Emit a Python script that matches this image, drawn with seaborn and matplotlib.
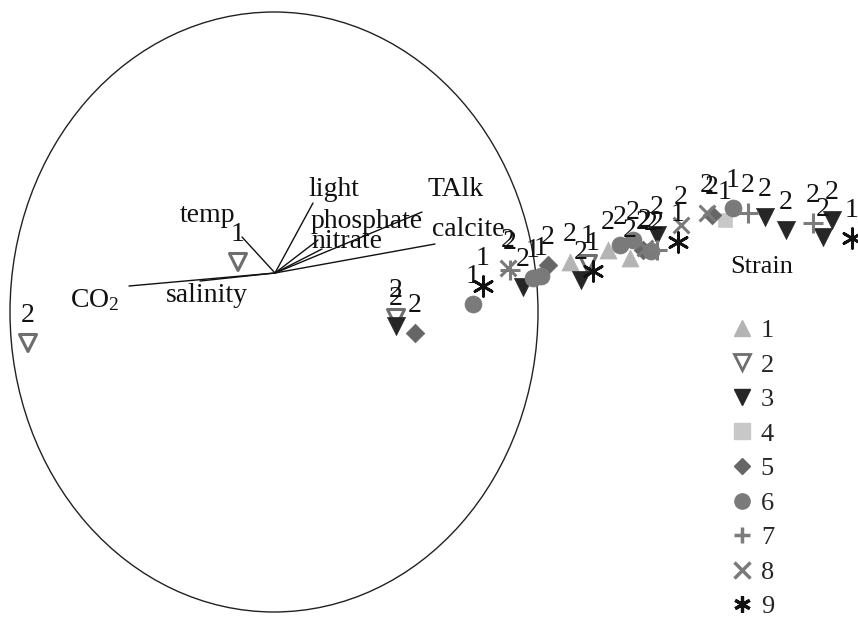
import numpy as np
import pandas as pd
import matplotlib
matplotlib.use("Agg")
import matplotlib.pyplot as plt
from matplotlib.patches import Ellipse
from matplotlib.lines import Line2D
import seaborn as sns

# ---- site scores (axis 1, axis 2), strain and replicate label ----
axis1 = [2.95, 3.33, 3.55,
         -2.47, -0.37, 1.21, 3.13,
         1.21, 2.48, 3.06, 3.82, 4.90, 5.11, 5.48, 5.57,
         4.50,
         1.40, 2.73, 3.68, 4.37,
         1.98, 2.58, 2.66, 3.45, 3.58, 3.76, 4.58,
         2.35, 3.82, 4.73, 5.38,
         2.33, 3.70, 4.06, 4.32,
         2.08, 3.18, 4.03, 5.77]
axis2 = [0.11, 0.23, 0.15,
         -0.70, 0.11, -0.45, 0.09,
         -0.53, -0.14, -0.07, 0.38, 0.56, 0.43, 0.36, 0.53,
         0.53,
         -0.60, 0.08, 0.23, 0.58,
         -0.31, -0.05, -0.03, 0.28, 0.33, 0.22, 0.65,
         0.03, 0.23, 0.60, 0.50,
         0.05, 0.25, 0.48, 0.60,
         -0.13, 0.02, 0.31, 0.35]
strain = ([1] * 3 + [2] * 4 + [3] * 8 + [4] + [5] * 4 + [6] * 7
          + [7] * 4 + [8] * 4 + [9] * 4)
replicate = ["2", "2", "2",
             "2", "1", "2", "1",
             "2", "2", "2", "2", "2", "2", "2", "2",
             "1",
             "2", "2", "2", "2",
             "1", "1", "1", "2", "2", "2", "1",
             "2", "2", "2", "2",
             "2", "2", "2", "2",
             "1", "1", "1", "1"]

# ---- environmental vectors ----
env_names = ["temp", "light", "TAlk", "phosphate", "nitrate", "calcite",
             "salinity", r"CO$_\mathrm{2}$"]
env_x = [-0.33, 0.38, 1.47, 0.43, 0.47, 1.60, -0.75, -1.46]
env_y = [0.36, 0.70, 0.61, 0.33, 0.24, 0.29, -0.08, -0.13]

strains = [1, 2, 3, 4, 5, 6, 7, 8, 9]

df = pd.DataFrame({"axis1": axis1, "axis2": axis2,
                   "strain": strain, "rep": replicate})

# ---- styling ----
sns.set_style("white")
plt.rcParams["font.family"] = ["Liberation Serif", "DejaVu Serif"]
plt.rcParams["mathtext.fontset"] = "custom"
plt.rcParams["mathtext.rm"] = "Liberation Serif"
plt.rcParams["mathtext.it"] = "Liberation Serif:italic"

asterisk = (6, 2, 0)
style = {
    1: dict(marker="^", color="#b4b4b4", s=150),
    2: dict(marker="v", color="#6e6e6e", s=150, open=True),
    3: dict(marker="v", color="#262626", s=170),
    4: dict(marker="s", color="#c8c8c8", s=110),
    5: dict(marker="D", color="#666666", s=90),
    6: dict(marker="o", color="#7a7a7a", s=150),
    7: dict(marker="+", color="#7c7c7c", s=220, lw=2.2),
    8: dict(marker="x", color="#7a7a7a", s=130, lw=2.2),
    9: dict(marker=asterisk, color="#111111", s=200, lw=2.0),
}

fig = plt.figure(figsize=(8.58, 6.19), dpi=100)
ax = fig.add_axes([0, 0, 1, 1])
ax.set_xlim(-2.75, 5.83)
ax.set_ylim(-3.46, 2.73)
ax.axis("off")

# correlation circle
ax.add_patch(Ellipse((-0.01, -0.39), 5.28, 6.00, fill=False,
                     edgecolor="#222222", linewidth=1.0, zorder=1))

# environmental arrows (plain lines from the origin)
for ex, ey in zip(env_x, env_y):
    ax.plot([0, ex], [0, ey], color="#111111", linewidth=1.0, zorder=2)

label_pos = {
    "temp": (-0.40, 0.57, "right"),
    "light": (0.33, 0.83, "left"),
    "TAlk": (1.53, 0.83, "left"),
    "phosphate": (0.36, 0.51, "left"),
    "nitrate": (0.36, 0.32, "left"),
    "calcite": (1.57, 0.43, "left"),
    "salinity": (-0.68, -0.22, "center"),
    r"CO$_\mathrm{2}$": (-1.80, -0.27, "center"),
}
for name in env_names:
    lx, ly, ha = label_pos[name]
    ax.text(lx, ly, name, ha=ha, va="center", fontsize=20, color="#111111",
            zorder=4)

# strain points
for st in strains:
    sub = df[df["strain"] == st]
    sty = style[st]
    kws = dict(x=sub["axis1"], y=sub["axis2"], marker=sty["marker"],
               s=sty["s"], ax=ax, legend=False, zorder=3)
    if sty.get("open"):
        sns.scatterplot(**kws, facecolors="none", edgecolor=sty["color"],
                        linewidth=2.2)
    elif sty["marker"] in ("+", "x", asterisk):
        sns.scatterplot(**kws, color=sty["color"], linewidth=sty["lw"])
    else:
        sns.scatterplot(**kws, color=sty["color"], edgecolor=sty["color"],
                        linewidth=0.5)

# replicate labels above each point
for _, row in df.iterrows():
    ax.annotate(row["rep"], (row["axis1"], row["axis2"]),
                xytext=(0, 20), textcoords="offset points",
                ha="center", va="center", fontsize=20, color="#111111",
                zorder=5)

# legend
handles = []
for st in strains:
    sty = style[st]
    if sty.get("open"):
        h = Line2D([], [], linestyle="none", marker=sty["marker"],
                   markersize=11, markerfacecolor="none",
                   markeredgecolor=sty["color"], markeredgewidth=2)
    elif sty["marker"] in ("+", "x", asterisk):
        h = Line2D([], [], linestyle="none", marker=sty["marker"],
                   markersize=12, color=sty["color"],
                   markeredgewidth=sty["lw"] + 0.3)
    else:
        h = Line2D([], [], linestyle="none", marker=sty["marker"],
                   markersize=11 if sty["marker"] != "D" else 8,
                   color=sty["color"])
    handles.append(h)

fig.text(762 / 858, 1 - 267 / 619, "Strain", ha="center", va="center",
         fontsize=19, color="#111111")
leg = ax.legend(handles, [str(s) for s in strains], loc="upper left",
                bbox_to_anchor=(716 / 858, 1 - 308 / 619), frameon=False,
                fontsize=19, labelspacing=0.42, handletextpad=0.1,
                handlelength=1.2, borderaxespad=0)

fig.savefig("out.png", dpi=100)
